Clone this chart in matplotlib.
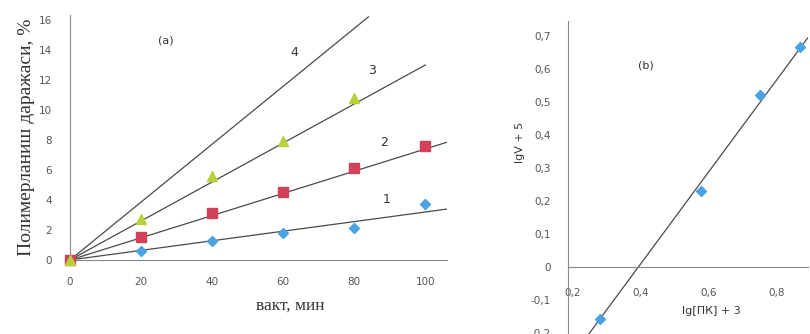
import numpy as np
import matplotlib
matplotlib.use("Agg")
import matplotlib.pyplot as plt
from matplotlib.ticker import FuncFormatter, MultipleLocator

# panel (a): conversion vs time
time_min = [0, 20, 40, 60, 80, 100]
conv_1 = [0, 0.6, 1.25, 1.8, 2.15, 3.7]
conv_2 = [0, 1.5, 3.1, 4.5, 6.1, 7.6]
time_3 = [0, 20, 40, 60, 80]
conv_3 = [0, 2.7, 5.6, 7.9, 10.8]
fit_slopes = [0.032, 0.074, 0.13, 0.193]   # lines 1..4
fit_xend = [106, 106, 100, 84]
line_labels = ["1", "2", "3", "4"]
label_xy = [(89, 4.0), (88.5, 7.8), (85, 12.6), (63, 13.8)]

# panel (b): lgV+5 vs lg[PK]+3
lg_pk = [0.28, 0.576, 0.75, 0.868]
lg_v = [-0.156, 0.23, 0.52, 0.665]
fit_b = (1.39, -0.545)   # slope, intercept
fit_b_x = (0.245, 0.891)

line_col = '#4a4a4a'
tick_col = '#555555'

fig = plt.figure(figsize=(8.1, 3.34), dpi=100)

# ---- panel (a)
ax1 = fig.add_axes([0.0864, 0.2216, 0.465, 0.732])
x_fit = np.array([0.0, 1.0])
for s, xe in zip(fit_slopes, fit_xend):
    xs = x_fit * xe
    ax1.plot(xs, s * xs, color=line_col, lw=0.9, zorder=2)
ax1.plot(time_min, conv_1, 'D', color='#4aa3e0', ms=5, clip_on=False, zorder=3)
ax1.plot(time_min, conv_2, 's', color='#d2415a', ms=6.5, clip_on=False, zorder=3)
ax1.plot(time_3, conv_3, '^', color='#b9d23c', ms=6.5, clip_on=False, zorder=3)
for t, (lx, ly) in zip(line_labels, label_xy):
    ax1.text(lx, ly, t, fontsize=9, color='#333333', ha='center', va='center')
ax1.text(27, 14.6, "(a)", fontsize=8, color='#333333', ha='center', va='center')

ax1.set_xlim(0, 106)
ax1.set_ylim(0, 16.3)
ax1.xaxis.set_major_locator(MultipleLocator(20))
ax1.yaxis.set_major_locator(MultipleLocator(2))
for sp in ['top', 'right']:
    ax1.spines[sp].set_visible(False)
for sp in ['left', 'bottom']:
    ax1.spines[sp].set_color('#888888')
    ax1.spines[sp].set_linewidth(0.8)
ax1.tick_params(length=0, labelsize=7.5, colors=tick_col, pad=12)
ax1.tick_params(axis='y', pad=13)
ax1.set_xlabel("вакт, мин", family='Liberation Serif', fontsize=12.5,
               color='#333333')
ax1.xaxis.set_label_coords(0.585, -0.155)
ax1.set_ylabel("Полимерланиш даражаси, %", family='Liberation Serif',
               fontsize=14, color='#333333', labelpad=3)

# ---- panel (b)
comma = FuncFormatter(lambda v, p: ("%g" % round(v, 2)).replace('.', ','))
ax2 = fig.add_axes([0.701, -0.018, 0.296, 0.955])
xb = np.array(fit_b_x)
ax2.plot(xb, fit_b[0] * xb + fit_b[1], color=line_col, lw=0.9, zorder=2)
ax2.plot(lg_pk, lg_v, 'D', color='#4aa3e0', ms=5, zorder=3)
ax2.text(0.415, 0.61, "(b)", fontsize=8, color='#333333', ha='center', va='center')

ax2.set_xlim(0.185, 0.891)
ax2.set_ylim(-0.22, 0.745)
ax2.xaxis.set_major_locator(MultipleLocator(0.2))
ax2.yaxis.set_major_locator(MultipleLocator(0.1))
ax2.xaxis.set_major_formatter(comma)
ax2.yaxis.set_major_formatter(comma)
ax2.spines['top'].set_visible(False)
ax2.spines['right'].set_visible(False)
ax2.spines['bottom'].set_position(('data', 0))
for sp in ['left', 'bottom']:
    ax2.spines[sp].set_color('#888888')
    ax2.spines[sp].set_linewidth(0.8)
ax2.tick_params(length=0, labelsize=7.5, colors=tick_col)
ax2.tick_params(axis='x', pad=15)
ax2.tick_params(axis='y', pad=12)
ax2.set_xlabel("lg[ПК] + 3", fontsize=8, color='#333333')
ax2.xaxis.set_label_coords(0.6, 0.107)
ax2.set_ylabel("lgV + 5", fontsize=8, color='#333333')
ax2.yaxis.set_label_coords(-0.18, 0.62)

fig.savefig("out.png", dpi=100)
